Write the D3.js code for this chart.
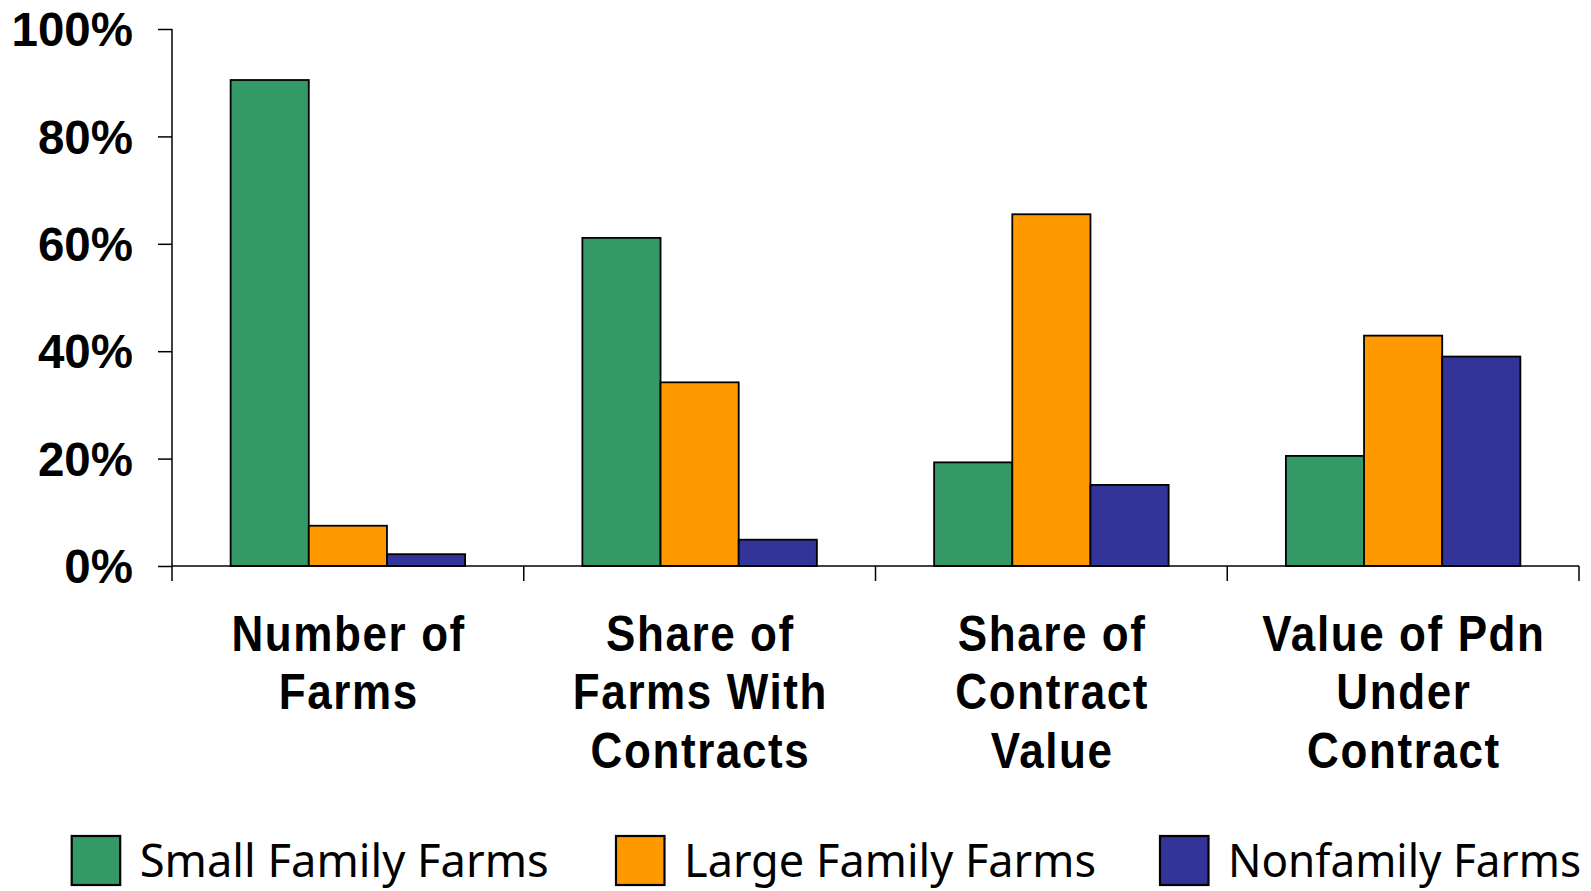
<!DOCTYPE html>
<html>
<head>
<meta charset="utf-8">
<script src="https://cdn.jsdelivr.net/npm/d3@7"></script>
<style>
  html, body { margin: 0; padding: 0; background: #fff; }
  svg { display: block; }
</style>
</head>
<body>
<svg id="chart" width="1591" height="891"></svg>
<script>
// Categories (multi-line axis labels)
const categories = [
  ["Number of", "Farms"],
  ["Share of", "Farms With", "Contracts"],
  ["Share of", "Contract", "Value"],
  ["Value of Pdn", "Under", "Contract"]
];
const seriesNames = ["Small Family Farms", "Large Family Farms", "Nonfamily Farms"];
const seriesColors = ["#339966", "#FF9900", "#333399"];

// Percent shares, one array per series, in category order
const smallFamily = [90.5, 61.1, 19.3, 20.5];
const largeFamily = [7.5, 34.2, 65.5, 42.9];
const nonfamily   = [2.2, 4.9, 15.1, 39.0];
const seriesValues = [smallFamily, largeFamily, nonfamily];

const yTicks = [0, 20, 40, 60, 80, 100];

const svg = d3.select("#chart");
const plotLeft = 172, plotRight = 1579, plotTop = 29, plotBottom = 566;

const catKeys = categories.map((c, i) => i);
const x0 = d3.scaleBand().domain(catKeys).range([plotLeft, plotRight]).padding(0);
const bw = x0.bandwidth();
const x1 = d3.scaleBand().domain(d3.range(seriesNames.length)).range([bw / 6, bw * 5 / 6]).padding(0);
const y = d3.scaleLinear().domain([0, 100]).range([plotBottom, plotTop]);

// Bars
const groups = svg.append("g").selectAll("g")
  .data(catKeys).join("g")
  .attr("transform", d => `translate(${x0(d)},0)`);

groups.selectAll("rect")
  .data(ci => seriesValues.map((vals, si) => ({ si, v: vals[ci] })))
  .join("rect")
  .attr("x", d => x1(d.si))
  .attr("width", x1.bandwidth())
  .attr("y", d => y(d.v))
  .attr("height", d => y(0) - y(d.v))
  .attr("fill", d => seriesColors[d.si])
  .attr("stroke", "#000")
  .attr("stroke-width", 1.8);

// Y axis
const yAxis = d3.axisLeft(y).tickValues(yTicks).tickSize(14).tickPadding(25)
  .tickFormat(d => d + "%");
const gy = svg.append("g").attr("transform", `translate(${plotLeft},0)`).call(yAxis);
gy.select(".domain").remove();
gy.append("line").attr("x1", 0).attr("x2", 0).attr("y1", plotTop).attr("y2", plotBottom + 15)
  .attr("stroke", "#000").attr("stroke-width", 1.5);
gy.selectAll(".tick line").attr("stroke", "#000").attr("stroke-width", 1.5);
gy.selectAll(".tick text")
  .attr("font-family", "'Liberation Sans', Arial, sans-serif")
  .attr("font-weight", "bold")
  .attr("font-size", 47.5)
  .attr("fill", "#000")
  .attr("dy", "0.35em");

// X axis line and boundary ticks
const gx = svg.append("g");
gx.append("line").attr("x1", plotLeft).attr("x2", plotRight).attr("y1", plotBottom).attr("y2", plotBottom)
  .attr("stroke", "#000").attr("stroke-width", 1.5);
const boundaries = catKeys.map(k => x0(k) + bw);
gx.selectAll("line.bt").data(boundaries).join("line").attr("class", "bt")
  .attr("x1", d => d).attr("x2", d => d)
  .attr("y1", plotBottom).attr("y2", plotBottom + 15)
  .attr("stroke", "#000").attr("stroke-width", 1.5);

// Category labels
const lineGap = 58.3, firstBaseline = 651, vScale = 1.13, ls = 1.6;
const labelG = svg.append("g");
catKeys.forEach(ci => {
  const cx = x0(ci) + bw / 2 + ls / 2;
  categories[ci].forEach((line, li) => {
    labelG.append("text")
      .attr("transform", `translate(${cx},${firstBaseline + li * lineGap}) scale(1,${vScale})`)
      .attr("text-anchor", "middle")
      .attr("font-family", "'Liberation Sans', Arial, sans-serif")
      .attr("font-weight", "bold")
      .attr("font-size", 44)
      .attr("letter-spacing", ls)
      .attr("fill", "#000")
      .text(line);
  });
});

// Legend
const legendX = [71.7, 616, 1160];
const legendW = [409, 412, 353];
const legend = svg.append("g").selectAll("g")
  .data(seriesNames).join("g")
  .attr("transform", (d, i) => `translate(${legendX[i]},836)`);
legend.append("rect")
  .attr("width", 48.5).attr("height", 49)
  .attr("fill", (d, i) => seriesColors[i])
  .attr("stroke", "#000").attr("stroke-width", 2.2);
legend.append("text")
  .attr("x", 68).attr("y", 41)
  .attr("font-family", "'Noto Sans', 'Open Sans', sans-serif")
  .attr("font-size", 45)
  .attr("textLength", (d, i) => legendW[i])
  .attr("lengthAdjust", "spacingAndGlyphs")
  .attr("fill", "#000")
  .text(d => d);
</script>
</body>
</html>
